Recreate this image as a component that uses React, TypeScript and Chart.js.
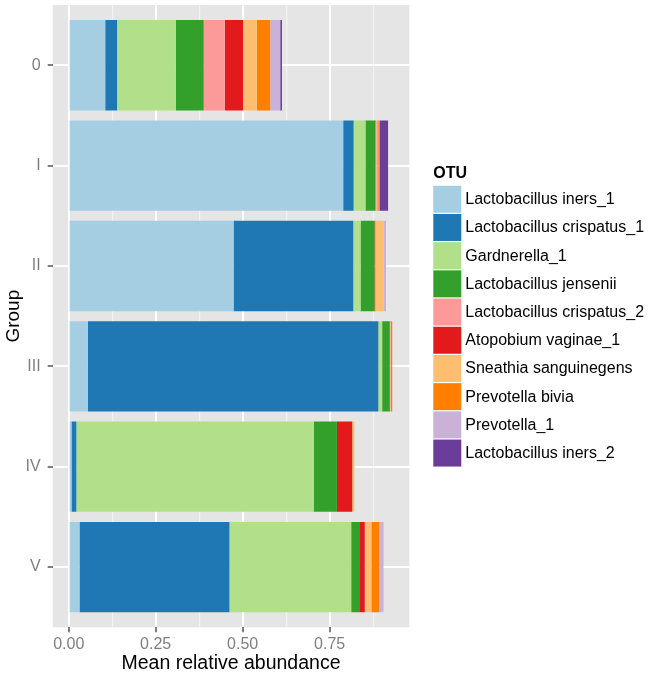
import React, { useEffect, useRef } from "react";
import { Chart, registerables } from "chart.js";

Chart.register(...registerables);

const groups = ["0", "I", "II", "III", "IV", "V"];

const otuNames = [
  "Lactobacillus iners_1",
  "Lactobacillus crispatus_1",
  "Gardnerella_1",
  "Lactobacillus jensenii",
  "Lactobacillus crispatus_2",
  "Atopobium vaginae_1",
  "Sneathia sanguinegens",
  "Prevotella bivia",
  "Prevotella_1",
  "Lactobacillus iners_2",
];

const otuColors = [
  "#A6CEE3",
  "#1F78B4",
  "#B2DF8A",
  "#33A02C",
  "#FB9A99",
  "#E31A1C",
  "#FDBF6F",
  "#FF7F00",
  "#CAB2D6",
  "#6A3D9A",
];

// values per group: 0, I, II, III, IV, V
const lactobacillusIners1 = [0.105, 0.789, 0.474, 0.055, 0.008, 0.031];
const lactobacillusCrispatus1 = [0.034, 0.030, 0.344, 0.835, 0.014, 0.431];
const gardnerella1 = [0.169, 0.034, 0.021, 0.011, 0.683, 0.350];
const lactobacillusJensenii = [0.080, 0.029, 0.040, 0.022, 0.066, 0.023];
const lactobacillusCrispatus2 = [0.061, 0.003, 0.000, 0.002, 0.000, 0.000];
const atopobiumVaginae1 = [0.052, 0.000, 0.002, 0.000, 0.044, 0.016];
const sneathiaSanguinegens = [0.040, 0.002, 0.025, 0.001, 0.006, 0.019];
const prevotellaBivia = [0.038, 0.004, 0.000, 0.004, 0.000, 0.023];
const prevotella1 = [0.029, 0.002, 0.006, 0.000, 0.000, 0.012];
const lactobacillusIners2 = [0.005, 0.025, 0.000, 0.000, 0.000, 0.000];

const seriesValues = [
  lactobacillusIners1,
  lactobacillusCrispatus1,
  gardnerella1,
  lactobacillusJensenii,
  lactobacillusCrispatus2,
  atopobiumVaginae1,
  sneathiaSanguinegens,
  prevotellaBivia,
  prevotella1,
  lactobacillusIners2,
];

const xTickValues = [0, 0.125, 0.25, 0.375, 0.5, 0.625, 0.75, 0.875];

const FONT = "'Liberation Sans', Arial, Helvetica, sans-serif";
const AXIS_GREY = "#7F7F7F";

const isMajor = (v: number) => Math.abs(v * 4 - Math.round(v * 4)) < 1e-9;

const zeroPad = (s: any) => {
  s.paddingTop = 0;
  s.paddingBottom = 0;
  s.paddingLeft = 0;
  s.paddingRight = 0;
};

const panelPlugin = {
  id: "panelBg",
  beforeDraw(chart: any) {
    const { ctx, chartArea } = chart;
    ctx.save();
    ctx.fillStyle = "#E5E5E5";
    ctx.fillRect(chartArea.left, chartArea.top, chartArea.right - chartArea.left, chartArea.bottom - chartArea.top);
    ctx.restore();
  },
};

const legendPlugin = {
  id: "otuLegend",
  afterDraw(chart: any) {
    const { ctx, chartArea } = chart;
    const datasets = chart.data.datasets;
    const keyH = 28.2;
    const keyW = 28;
    const titleH = 20;
    const cy = (chartArea.top + chartArea.bottom) / 2;
    const total = titleH + datasets.length * keyH;
    const top = cy - total / 2;
    const x0 = chartArea.right + 24;
    ctx.save();
    ctx.textBaseline = "middle";
    ctx.textAlign = "left";
    ctx.fillStyle = "#000000";
    ctx.font = `bold 16px ${FONT}`;
    ctx.fillText("OTU", x0, top + 8);
    ctx.font = `16px ${FONT}`;
    datasets.forEach((ds: any, i: number) => {
      const y = top + titleH + i * keyH;
      ctx.fillStyle = ds.backgroundColor;
      ctx.fillRect(x0, y + 0.6, keyW, keyH - 1.2);
      ctx.fillStyle = "#000000";
      ctx.fillText(ds.label, x0 + keyW + 4, y + keyH / 2 + 0.5);
    });
    ctx.restore();
  },
};

export default function App() {
  const canvasRef = useRef<HTMLCanvasElement | null>(null);

  useEffect(() => {
    if (!canvasRef.current) return;
    Chart.defaults.font.family = FONT;
    const datasets = seriesValues.map((vals, k) => ({
      label: otuNames[k],
      data: vals.map((v, i) => ({ x: v, y: i })),
      backgroundColor: otuColors[k],
      borderWidth: 0,
      barPercentage: 0.9,
      categoryPercentage: 1.0,
    }));

    const chart = new Chart(canvasRef.current, {
      type: "bar",
      data: { datasets } as any,
      plugins: [panelPlugin, legendPlugin],
      options: {
        indexAxis: "y",
        responsive: false,
        animation: false,
        devicePixelRatio: 1,
        layout: {
          autoPadding: false,
          padding: { left: 0, top: 5, right: 242.7, bottom: 0 },
        } as any,
        plugins: {
          legend: { display: false },
          tooltip: { enabled: false },
        },
        scales: {
          x: {
            type: "linear",
            min: -0.046,
            max: 0.979,
            stacked: true,
            offset: false,
            afterBuildTicks: (s: any) => {
              s.ticks = xTickValues.map((v) => ({ value: v }));
            },
            afterFit: (s: any) => {
              s.height = 49.7;
              zeroPad(s);
            },
            ticks: {
              callback: (v: any) => (isMajor(Number(v)) ? Number(v).toFixed(2) : ""),
              color: AXIS_GREY,
              font: { size: 16 },
              padding: 3,
              maxRotation: 0,
              autoSkip: false,
            },
            grid: {
              offset: false,
              color: (c: any) => (c.tick && !isMajor(c.tick.value) ? "#F2F2F2" : "#FFFFFF"),
              lineWidth: (c: any) => (c.tick && !isMajor(c.tick.value) ? 1.2 : 2),
              tickColor: (c: any) => (c.tick && !isMajor(c.tick.value) ? "rgba(0,0,0,0)" : AXIS_GREY),
              tickWidth: 2,
              tickLength: 5,
              drawTicks: true,
            },
            border: { display: false },
            title: {
              display: true,
              text: "Mean relative abundance",
              color: "#000000",
              font: { size: 19.5 },
              padding: { top: 0, bottom: 2 },
            },
          } as any,
          y: {
            type: "linear",
            reverse: true,
            min: -0.6,
            max: 5.6,
            stacked: true,
            offset: false,
            afterBuildTicks: (s: any) => {
              s.ticks = groups.map((_, i) => ({ value: i }));
            },
            afterFit: (s: any) => {
              s.width = 52.7;
              zeroPad(s);
            },
            ticks: {
              callback: (v: any) => groups[Number(v)] ?? "",
              color: AXIS_GREY,
              font: { size: 16 },
              padding: 7,
              autoSkip: false,
            },
            grid: {
              offset: false,
              color: "#FFFFFF",
              lineWidth: 2,
              tickColor: AXIS_GREY,
              tickWidth: 2,
              tickLength: 5,
              drawTicks: true,
            },
            border: { display: false },
            title: {
              display: true,
              text: "Group",
              color: "#000000",
              font: { size: 19 },
              padding: { top: 2.6, bottom: 0 },
            },
          } as any,
        },
      },
    });
    return () => chart.destroy();
  }, []);

  return (
    <div style={{ position: "fixed", left: 0, top: 0, width: 652, height: 677, background: "#FFFFFF" }}>
      <canvas ref={canvasRef} width={652} height={677} style={{ display: "block" }} />
    </div>
  );
}
